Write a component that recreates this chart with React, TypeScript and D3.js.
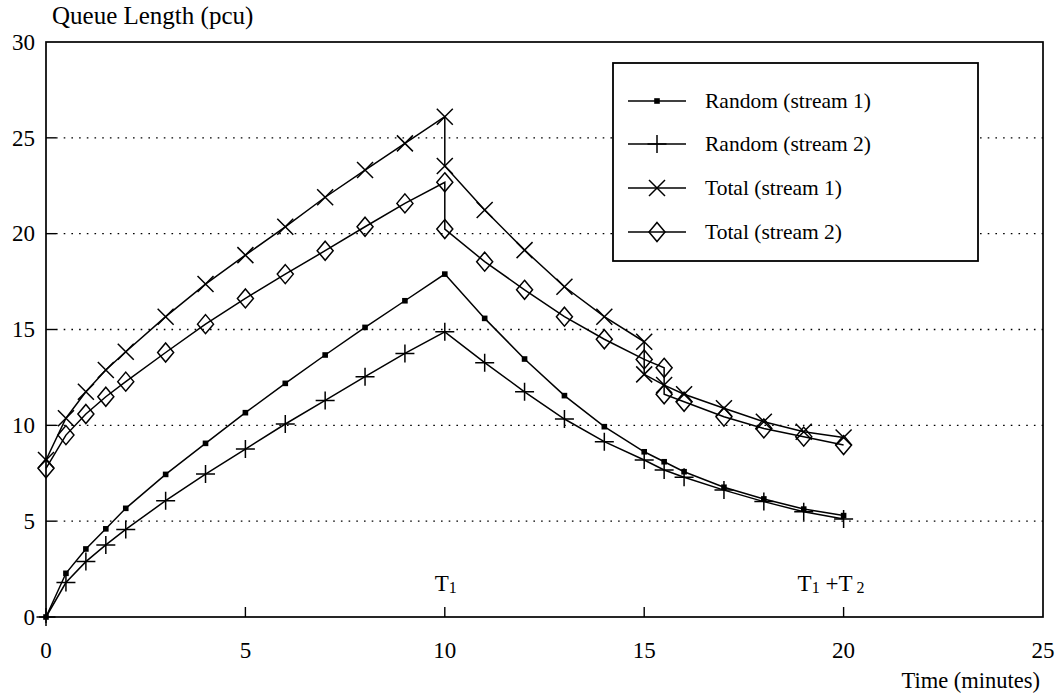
import React from "react";
import * as d3 from "d3";

// Sample times (minutes) and queue lengths (pcu)
const randomTimes = [0, 0.5, 1, 1.5, 2, 3, 4, 5, 6, 7, 8, 9, 10, 11, 12, 13, 14, 15, 15.5, 16, 17, 18, 19, 20];
const random1Values = [0, 2.28, 3.55, 4.6, 5.67, 7.44, 9.06, 10.66, 12.19, 13.67, 15.11, 16.5, 17.89, 15.58, 13.46, 11.55, 9.93, 8.62, 8.1, 7.58, 6.77, 6.16, 5.63, 5.29];
const random2Values = [0, 1.8, 2.89, 3.76, 4.57, 6.07, 7.46, 8.76, 10.07, 11.3, 12.54, 13.75, 14.88, 13.27, 11.75, 10.33, 9.15, 8.19, 7.67, 7.29, 6.62, 6.02, 5.49, 5.11];

const total1Times = [0, 0.5, 1, 1.5, 2, 3, 4, 5, 6, 7, 8, 9, 10, 10, 11, 12, 13, 14, 15, 15, 15.5, 16, 17, 18, 19, 20];
const total1Values = [8.19, 10.37, 11.75, 12.89, 13.84, 15.67, 17.37, 18.88, 20.36, 21.9, 23.32, 24.71, 26.1, 23.53, 21.23, 19.14, 17.23, 15.67, 14.36, 12.66, 12.1, 11.62, 10.89, 10.19, 9.67, 9.37];

const total2Times = [0, 0.5, 1, 1.5, 2, 3, 4, 5, 6, 7, 8, 9, 10, 10, 11, 12, 13, 14, 15, 15.5, 15.5, 16, 17, 18, 19, 20];
const total2Values = [7.76, 9.49, 10.59, 11.49, 12.28, 13.8, 15.28, 16.62, 17.89, 19.11, 20.36, 21.58, 22.68, 20.24, 18.54, 17.07, 15.67, 14.49, 13.44, 13.0, 11.62, 11.23, 10.45, 9.84, 9.41, 8.97];

const xTicks = [0, 5, 10, 15, 20, 25];
const yTicks = [0, 5, 10, 15, 20, 25, 30];
const gridValues = [5, 10, 15, 20, 25];

type MarkerKind = "square" | "plus" | "cross" | "diamond";

const seriesList: { name: string; xs: number[]; ys: number[]; marker: MarkerKind }[] = [
  { name: "Random (stream 1)", xs: randomTimes, ys: random1Values, marker: "square" },
  { name: "Random (stream 2)", xs: randomTimes, ys: random2Values, marker: "plus" },
  { name: "Total (stream 1)", xs: total1Times, ys: total1Values, marker: "cross" },
  { name: "Total (stream 2)", xs: total2Times, ys: total2Values, marker: "diamond" },
];

const FONT = "'Liberation Serif', 'Times New Roman', serif";

function Marker({ kind, cx, cy }: { kind: MarkerKind; cx: number; cy: number }) {
  const s = { stroke: "#000", strokeWidth: 1.5, fill: "none" };
  if (kind === "square") {
    return <rect x={cx - 2.8} y={cy - 2.8} width={5.6} height={5.6} fill="#000" />;
  }
  if (kind === "plus") {
    return <path d={`M${cx - 9.5},${cy}H${cx + 9.5}M${cx},${cy - 9}V${cy + 9}`} {...s} />;
  }
  if (kind === "cross") {
    return (
      <path
        d={`M${cx - 8},${cy - 8}L${cx + 8},${cy + 8}M${cx - 8},${cy + 8}L${cx + 8},${cy - 8}`}
        {...s}
      />
    );
  }
  return <path d={`M${cx},${cy - 9.5}L${cx + 8},${cy}L${cx},${cy + 9.5}L${cx - 8},${cy}Z`} {...s} />;
}

export default function App() {
  const width = 1060;
  const height = 696;
  const left = 46;
  const right = 1043;
  const top = 42;
  const bottom = 617;

  const x = d3.scaleLinear().domain([0, 25]).range([left, right]);
  const y = d3.scaleLinear().domain([0, 30]).range([bottom, top]);

  const line = d3
    .line<[number, number]>()
    .x((d) => x(d[0]))
    .y((d) => y(d[1]));

  // legend box
  const lg = { x0: 613, y0: 63, x1: 978, y1: 261 };
  const legendRows = [101, 144, 188, 232];

  return (
    <svg
      width={width}
      height={height}
      style={{ position: "absolute", left: 0, top: 0, background: "#fff" }}
      fontFamily={FONT}
    >
      <rect x={0} y={0} width={width} height={height} fill="#fff" />

      {/* dotted grid */}
      {gridValues.map((v) => (
        <line
          key={"g" + v}
          x1={left + 10}
          x2={right}
          y1={y(v)}
          y2={y(v)}
          stroke="#000"
          strokeWidth={1.3}
          strokeDasharray="1.6,6.1"
        />
      ))}

      {/* y ticks */}
      {gridValues.map((v) => (
        <line key={"yt" + v} x1={left} x2={left + 10} y1={y(v)} y2={y(v)} stroke="#000" strokeWidth={1.4} />
      ))}
      <line x1={left - 7} x2={left} y1={y(0)} y2={y(0)} stroke="#000" strokeWidth={1.4} />

      {/* x ticks */}
      {xTicks.slice(1, -1).map((v) => (
        <line key={"xt" + v} x1={x(v)} x2={x(v)} y1={bottom} y2={bottom - 10} stroke="#000" strokeWidth={1.4} />
      ))}
      <line x1={x(0)} x2={x(0)} y1={bottom} y2={bottom + 6} stroke="#000" strokeWidth={1.4} />

      {/* frame */}
      <rect x={left} y={top} width={right - left} height={bottom - top} fill="none" stroke="#000" strokeWidth={1.7} />

      {/* y tick labels */}
      {yTicks.map((v) => (
        <text key={"yl" + v} x={left - 11} y={y(v)} dy="0.34em" textAnchor="end" fontSize={23}>
          {v}
        </text>
      ))}

      {/* x tick labels */}
      {xTicks.map((v) => (
        <text key={"xl" + v} x={x(v)} y={658} textAnchor="middle" fontSize={23}>
          {v}
        </text>
      ))}

      <text x={52} y={24} fontSize={25}>Queue Length (pcu)</text>
      <text x={1040} y={688} textAnchor="end" fontSize={22.5}>Time (minutes)</text>

      {/* phase labels */}
      <text x={x(10) - 10} y={591} fontSize={23}>
        T<tspan fontSize={16} dy={2}>1</tspan>
      </text>
      <text x={x(20) - 46} y={591} fontSize={23}>
        T<tspan fontSize={16} dy={2}>1</tspan>
        <tspan dy={-2}> +T</tspan>
        <tspan fontSize={16} dy={2}> 2</tspan>
      </text>

      {/* series */}
      {seriesList.map((s) => {
        const pts = s.xs.map((t, i) => [t, s.ys[i]] as [number, number]);
        return (
          <g key={s.name}>
            <path d={line(pts) ?? ""} fill="none" stroke="#000" strokeWidth={1.5} />
            {pts.map((p, i) => (
              <Marker key={i} kind={s.marker} cx={x(p[0])} cy={y(p[1])} />
            ))}
          </g>
        );
      })}

      {/* legend */}
      <rect
        x={lg.x0}
        y={lg.y0}
        width={lg.x1 - lg.x0}
        height={lg.y1 - lg.y0}
        fill="#fff"
        stroke="#000"
        strokeWidth={1.8}
      />
      {seriesList.map((s, i) => (
        <g key={"lg" + s.name}>
          <line x1={628} x2={686} y1={legendRows[i]} y2={legendRows[i]} stroke="#000" strokeWidth={1.5} />
          <Marker kind={s.marker} cx={657} cy={legendRows[i]} />
          <text x={705} y={legendRows[i]} dy="0.34em" fontSize={21.5}>
            {s.name}
          </text>
        </g>
      ))}
    </svg>
  );
}
